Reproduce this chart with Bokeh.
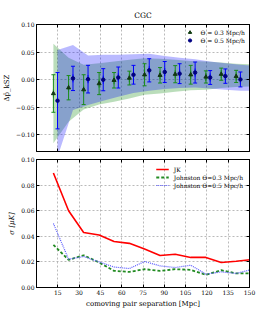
import numpy as np
from bokeh.plotting import figure
from bokeh.layouts import column
from bokeh.models import (Range1d, FixedTicker, LinearAxis, Legend, LegendItem,
                          ColumnDataSource, CustomLabelingPolicy)
from bokeh.embed import file_html
from bokeh.resources import INLINE

# ---------------- data ----------------
x_th03 = [11.9, 22.6, 33.2, 44.1, 54.6, 65.4, 76.1, 87.0, 97.7, 108.6, 119.3, 130.1, 140.6]
p_th03 = [-0.025, -0.0145, -0.018, -0.007, -0.001, 0.003, 0.009, 0.008, 0.010, 0.009, 0.005, 0.010, 0.006]
e_th03 = [0.034, 0.022, 0.027, 0.020, 0.014, 0.0125, 0.020, 0.014, 0.0155, 0.017, 0.011, 0.011, 0.011]

x_th05 = [14.8, 25.7, 36.3, 47.0, 57.6, 68.3, 79.4, 90.3, 100.8, 111.7, 122.3, 133.0, 143.6]
p_th05 = [-0.038, 0.0024, 0.001, 0.000, 0.004, 0.009, 0.017, 0.014, 0.011, 0.013, 0.004, 0.0065, 0.0005]
e_th05 = [0.051, 0.022, 0.025, 0.020, 0.019, 0.017, 0.021, 0.019, 0.018, 0.019, 0.0125, 0.013, 0.0135]

band03_x = [11.9, 22.6, 33.2, 44.1, 54.6, 65.4, 76.1, 87.0, 97.7, 108.6, 119.3, 130.1, 140.6, 151.3]
band03_lo = [-0.115, -0.076, -0.054, -0.045, -0.040, -0.034, -0.027, -0.025, -0.022, -0.019, -0.018, -0.015, -0.013, -0.012]
band03_hi = [0.065, 0.040, 0.027, 0.030, 0.033, 0.036, 0.039, 0.038, 0.036, 0.034, 0.033, 0.031, 0.029, 0.028]

band05_x = [14.8, 25.7, 36.3, 47.0, 57.6, 68.3, 79.4, 90.3, 100.8, 111.7, 122.3, 133.0, 143.6, 154.5]
band05_lo = [-0.140, -0.055, -0.046, -0.038, -0.031, -0.024, -0.020, -0.017, -0.015, -0.014, -0.016, -0.018, -0.020, -0.020]
band05_hi = [0.054, 0.063, 0.044, 0.045, 0.045, 0.046, 0.047, 0.043, 0.040, 0.037, 0.033, 0.030, 0.027, 0.025]

sep = [11.9, 22.6, 33.2, 44.1, 54.6, 65.4, 76.1, 87.0, 97.7, 108.6, 119.3, 130.1, 140.6, 151.3]
sigma_jk = [0.0895, 0.060, 0.043, 0.041, 0.036, 0.0345, 0.030, 0.025, 0.026, 0.0235, 0.0235, 0.0195, 0.0205, 0.0218]
sigma_j03 = [0.0333, 0.0216, 0.0252, 0.0195, 0.013, 0.0122, 0.0143, 0.013, 0.0143, 0.0138, 0.0099, 0.0135, 0.011, 0.011]
sigma_j05 = [0.050, 0.0221, 0.0242, 0.020, 0.016, 0.0148, 0.0203, 0.0169, 0.0156, 0.0174, 0.0104, 0.0122, 0.011, 0.014]

x_ticks = [15, 30, 45, 60, 75, 90, 105, 120, 135, 150]
top_ticks = [-0.10, -0.05, 0.0, 0.05, 0.10]
top_tick_labels = ["\u22120.10", "\u22120.05", "0.00", "0.05", "0.10"]
bot_ticks = [0.0, 0.02, 0.04, 0.06, 0.08, 0.10]
bot_tick_labels = ["0.00", "0.02", "0.04", "0.06", "0.08", "0.10"]

FONT = "DejaVu Serif"
GREEN = "#1a8c1a"
BLUE = "#0000ff"


def no_labels():
    return CustomLabelingPolicy(code="return new Set()")


def style_axis(ax, ticks, labels=None):
    ax.ticker = FixedTicker(ticks=ticks)
    ax.minor_tick_line_color = None
    ax.major_tick_in = 3
    ax.major_tick_out = 0
    ax.major_tick_line_color = "black"
    ax.axis_line_color = "black"
    ax.major_label_text_font = FONT
    ax.major_label_text_font_size = "6px"
    ax.major_label_text_color = "black"
    ax.major_label_standoff = 2
    ax.axis_label_text_font = FONT
    ax.axis_label_text_font_size = "7px"
    ax.axis_label_text_font_style = "normal"
    ax.axis_label_text_color = "black"
    ax.axis_label_standoff = 2
    if labels is not None:
        ax.major_label_overrides = {t: l for t, l in zip(ticks, labels)}


def blank_axis(ticks):
    ax = LinearAxis(ticker=FixedTicker(ticks=ticks))
    ax.minor_tick_line_color = None
    ax.major_tick_in = 3
    ax.major_tick_out = 0
    ax.major_tick_line_color = "black"
    ax.axis_line_color = "black"
    ax.major_label_policy = no_labels()
    ax.major_label_text_font_size = "1px"
    ax.major_label_standoff = 0
    ax.axis_label_standoff = 0
    return ax


def style_fig(p):
    p.outline_line_color = "black"
    p.background_fill_color = "white"
    p.border_fill_color = "white"
    for g in (p.xgrid, p.ygrid):
        g.grid_line_color = "#a8a8a8"
        g.grid_line_dash = "2 2"
        g.grid_line_width = 0.8


# ---------------- top panel ----------------
p1 = figure(frame_width=213, frame_height=127, x_range=Range1d(0, 150),
            y_range=Range1d(-0.13, 0.10), output_backend="svg",
            toolbar_location=None, title="CGC",
            min_border_left=26, min_border_right=14, min_border_top=0,
            min_border_bottom=0, margin=(8, 0, 0, 0))
style_fig(p1)
p1.title.text_font = FONT
p1.title.text_font_size = "7.5px"
p1.title.text_font_style = "normal"
p1.title.text_color = "black"
p1.title.align = "center"
p1.title.offset = 0
p1.title.standoff = 1

style_axis(p1.yaxis[0], top_ticks, top_tick_labels)
p1.yaxis.axis_label = "\u0394p\u0302_kSZ"
style_axis(p1.xaxis[0], x_ticks)
p1.xaxis.major_label_policy = no_labels()
p1.xaxis.major_label_text_font_size = "1px"
p1.xaxis.major_label_standoff = 0
p1.xgrid.ticker = FixedTicker(ticks=x_ticks)
p1.ygrid.ticker = FixedTicker(ticks=top_ticks)
p1.add_layout(blank_axis(top_ticks), "right")
p1.add_layout(blank_axis(x_ticks), "above")

p1.varea(x=band03_x, y1=band03_lo, y2=band03_hi, fill_color="green", fill_alpha=0.27)
p1.varea(x=band05_x, y1=band05_lo, y2=band05_hi, fill_color="blue", fill_alpha=0.27)

legend_items = []
for xs, ps, es, col, mk, msize, mcol, lab in [
        (x_th03, p_th03, e_th03, GREEN, "triangle", 4, "#123812", "\u0398 = 0.3 Mpc/h"),
        (x_th05, p_th05, e_th05, BLUE, "circle", 3.5, "#000080", "\u0398 = 0.5 Mpc/h")]:
    lo = [p - e for p, e in zip(ps, es)]
    hi = [p + e for p, e in zip(ps, es)]
    src = ColumnDataSource(dict(x=xs, y=ps, lo=lo, hi=hi))
    p1.segment(x0="x", y0="lo", x1="x", y1="hi", source=src, line_color=col, line_width=1)
    p1.scatter(x="x", y="lo", source=src, marker="dash", size=4, line_color=col, line_width=1)
    p1.scatter(x="x", y="hi", source=src, marker="dash", size=4, line_color=col, line_width=1)
    vbar = p1.scatter(x="x", y="y", source=src, marker="dash", angle=np.pi / 2, size=8,
                      line_color=col, line_width=1)
    pts = p1.scatter(x="x", y="y", source=src, marker=mk, size=msize,
                     fill_color=mcol, line_color=mcol)
    legend_items.append(LegendItem(label=lab, renderers=[vbar, pts]))

leg1 = Legend(items=legend_items, location="top_right")
leg1.label_text_font = FONT
leg1.label_text_font_size = "6px"
leg1.label_text_color = "black"
leg1.border_line_alpha = 0
leg1.background_fill_alpha = 0
leg1.glyph_width = 14
leg1.glyph_height = 8
leg1.label_height = 8
leg1.spacing = 0
leg1.padding = 2
leg1.margin = 2
leg1.label_standoff = 4
p1.add_layout(leg1)

# ---------------- bottom panel ----------------
p2 = figure(frame_width=213, frame_height=128, x_range=p1.x_range,
            y_range=Range1d(0, 0.10), output_backend="svg",
            toolbar_location=None,
            min_border_left=26, min_border_right=14, min_border_top=0,
            min_border_bottom=0)
style_fig(p2)
style_axis(p2.yaxis[0], bot_ticks, bot_tick_labels)
p2.yaxis.axis_label = "\u03c3 [\u03bcK]"
p2.yaxis.axis_label_text_font_style = "italic"
style_axis(p2.xaxis[0], x_ticks)
p2.xaxis.axis_label = "comoving pair separation [Mpc]"
p2.xgrid.ticker = FixedTicker(ticks=x_ticks)
p2.ygrid.ticker = FixedTicker(ticks=bot_ticks)
p2.add_layout(blank_axis(bot_ticks), "right")
p2.add_layout(blank_axis(x_ticks), "above")

r_jk = p2.line(sep, sigma_jk, line_color="red", line_width=1.6)
r_03 = p2.line(sep, sigma_j03, line_color="#228b22", line_width=1.8, line_dash="3 2")
r_05 = p2.line(sep, sigma_j05, line_color="#5a5aff", line_width=1.2, line_dash="1 1")

leg2 = Legend(items=[LegendItem(label="JK", renderers=[r_jk]),
                     LegendItem(label="Johnston \u0398=0.3 Mpc/h", renderers=[r_03]),
                     LegendItem(label="Johnston \u0398=0.5 Mpc/h", renderers=[r_05])],
              location="top_right")
leg2.label_text_font = FONT
leg2.label_text_font_size = "6px"
leg2.label_text_color = "black"
leg2.border_line_alpha = 0
leg2.background_fill_alpha = 0
leg2.glyph_width = 13
leg2.glyph_height = 8
leg2.label_height = 8
leg2.spacing = 0
leg2.padding = 3
leg2.margin = 3
leg2.label_standoff = 5
p2.add_layout(leg2)

layout = column(p1, p2, spacing=0)
open("out.html", "w").write(file_html(layout, INLINE))
